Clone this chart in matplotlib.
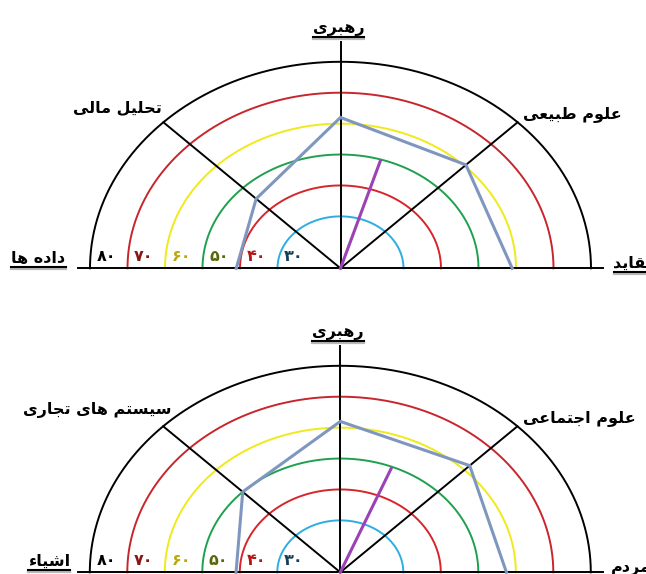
import numpy as np
import matplotlib
matplotlib.use("Agg")
import matplotlib.pyplot as plt
from matplotlib.lines import Line2D

# ---- data ----
ring_values = [30, 40, 50, 60, 70, 80]
ring_labels = ["۳۰", "۴۰", "۵۰", "۶۰", "۷۰", "۸۰"]
ring_colors = ["#2eaee0", "#d6262b", "#1fa04e", "#f0ea1c", "#c7262c", "#000000"]
ring_label_colors = ["#173f55", "#b41616", "#56690a", "#b9ab0c", "#8a1515", "#000000"]

axis_angles = [180, 135, 90, 45, 0]

top_names = ["داده ها", "تحلیل مالی", "رهبری", "علوم طبیعی", "عقاید"]
top_values = [41, 45, 62, 60.5, 59]
top_dir = [73, 49.5]      # angle (deg), value

bottom_names = ["اشیاء", "سیستم های تجاری", "رهبری", "علوم اجتماعی", "مردم"]
bottom_values = [41, 50, 62, 62, 57.5]
bottom_dir = [68, 49.4]

# ---- tiny persian shaper (matplotlib has no RTL / joining) ----
# isolated, final, initial, medial
FORMS = {
    "ء": ("\ufe80",),
    "ا": ("\ufe8d", "\ufe8e"),
    "ب": ("\ufe8f", "\ufe90", "\ufe91", "\ufe92"),
    "ت": ("\ufe95", "\ufe96", "\ufe97", "\ufe98"),
    "ج": ("\ufe9d", "\ufe9e", "\ufe9f", "\ufea0"),
    "ح": ("\ufea1", "\ufea2", "\ufea3", "\ufea4"),
    "د": ("\ufea9", "\ufeaa"),
    "ر": ("\ufead", "\ufeae"),
    "س": ("\ufeb1", "\ufeb2", "\ufeb3", "\ufeb4"),
    "ش": ("\ufeb5", "\ufeb6", "\ufeb7", "\ufeb8"),
    "ط": ("\ufec1", "\ufec2", "\ufec3", "\ufec4"),
    "ع": ("\ufec9", "\ufeca", "\ufecb", "\ufecc"),
    "ق": ("\ufed5", "\ufed6", "\ufed7", "\ufed8"),
    "ل": ("\ufedd", "\ufede", "\ufedf", "\ufee0"),
    "م": ("\ufee1", "\ufee2", "\ufee3", "\ufee4"),
    "ه": ("\ufee9", "\ufeea", "\ufeeb", "\ufeec"),
    "و": ("\ufeed", "\ufeee"),
    "ی": ("\ufbfc", "\ufbfd", "\ufbfe", "\ufbff"),
}


def shape(word):
    out = []
    for i, ch in enumerate(word):
        f = FORMS.get(ch)
        if f is None:
            out.append(ch)
            continue
        prev = word[i - 1] if i > 0 else ""
        nxt = word[i + 1] if i + 1 < len(word) else ""
        jp = len(FORMS.get(prev, ())) == 4 and len(f) >= 2
        jn = len(f) == 4 and len(FORMS.get(nxt, ())) >= 2
        if jp and jn:
            out.append(f[3])
        elif jp:
            out.append(f[1])
        elif jn:
            out.append(f[2])
        else:
            out.append(f[0])
    return "".join(reversed(out))


W, H = 646, 574
SX = 3.75              # px per unit, horizontal
SY = SX / 1.213        # the picture is stretched sideways
R0 = 13.2              # value that sits at the centre

FONT = "DejaVu Sans"

fig = plt.figure(figsize=(W / 100, H / 100), dpi=100)
underlined = []


def rad(v):
    return np.asarray(v, dtype=float) - R0


def make_axes(top_px, height_px, cx, cy):
    ax = fig.add_axes([0, (H - top_px - height_px) / H, 1, height_px / H])
    ax.set_xlim(-cx / SX, (W - cx) / SX)
    ax.set_ylim(-(height_px - cy) / SY, cy / SY)
    ax.axis("off")
    return ax


def draw_chart(ax, names, values, direction, label_pos):
    t = np.linspace(0, np.pi, 300)
    for v, c in zip(ring_values, ring_colors):
        ax.plot(rad(v) * np.cos(t), rad(v) * np.sin(t), color=c, lw=1.4)

    # axes
    ax.plot([-rad(83.2), rad(83.2)], [0, 0], color="black", lw=1.4)
    ax.plot([0, 0], [0, rad(86.5)], color="black", lw=1.4)
    for a in (45, 135):
        r = rad(80)
        ax.plot([0, r * np.cos(np.radians(a))], [0, r * np.sin(np.radians(a))],
                color="black", lw=1.4)

    ang = np.radians(axis_angles)
    r = rad(values)
    ax.plot(r * np.cos(ang), r * np.sin(ang), color="#7f97bf", lw=2.2,
            solid_joinstyle="miter")

    a, v = np.radians(direction[0]), rad(direction[1])
    ax.plot([0, v * np.cos(a)], [0, v * np.sin(a)], color="#9b42b5", lw=2.2)

    for v, lab, c in zip(ring_values, ring_labels, ring_label_colors):
        ax.text(-rad(v) + 6.5 / SX, 12 / SY, lab, color=c, fontsize=11.5,
                fontweight="bold", family=FONT, ha="left", va="center")

    for name, (dx, dy, ha, ul) in zip(names, label_pos):
        txt = ax.text(dx / SX, dy / SY, shape(name), fontsize=11.5,
                      fontweight="bold", family=FONT, ha=ha, va="center")
        if ul:
            underlined.append((ax, txt, dx, dy))


ax1 = make_axes(0, 300, 340.5, 268.3)
draw_chart(ax1, top_names, top_values, top_dir,
           [(-302, 10, "center", True), (-223, 161, "center", False),
            (-2, 240, "center", True), (232, 154, "center", False),
            (273, 5, "left", True)])

ax2 = make_axes(300, 274, 340.3, 272.3)
draw_chart(ax2, bottom_names, bottom_values, bottom_dir,
           [(-291, 11, "center", True), (-243, 162, "center", False),
            (-2, 240, "center", True), (239, 154, "center", False),
            (271, 4, "left", False)])

# underlines with a soft grey shadow, a little below each label
fig.canvas.draw()
rend = fig.canvas.get_renderer()
inv = fig.transFigure.inverted()
for ax, txt, dx, dy in underlined:
    bb = txt.get_window_extent(rend)
    y = ax.transData.transform((dx / SX, dy / SY))[1] - 8.5
    for off, col, lw in ((-1.8, "#b8b8b8", 1.6), (0, "black", 1.5)):
        p0 = inv.transform((bb.x0, y + off))
        p1 = inv.transform((bb.x1, y + off))
        fig.add_artist(Line2D([p0[0], p1[0]], [p0[1], p1[1]], color=col, lw=lw))

fig.savefig("out.png", dpi=100)
